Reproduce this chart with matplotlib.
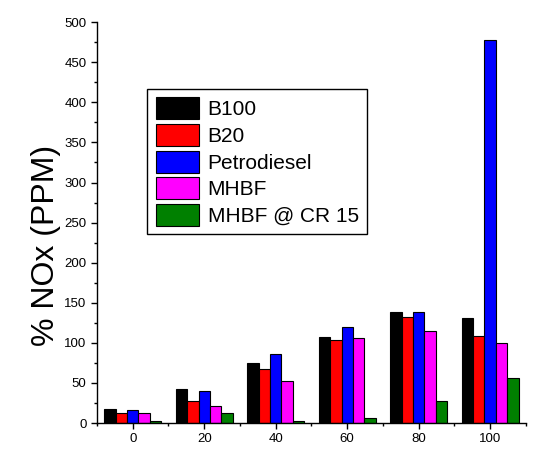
import numpy as np
import matplotlib
matplotlib.use("Agg")
import matplotlib.pyplot as plt
from matplotlib.ticker import MultipleLocator

plt.rcParams['font.family'] = ['Liberation Sans', 'DejaVu Sans']

# data
loads = [0, 20, 40, 60, 80, 100]
b100 = [17, 43, 75, 107, 138, 131]
b20 = [13, 27, 67, 103, 132, 108]
petrodiesel = [16, 40, 86, 120, 138, 478]
mhbf = [13, 21, 52, 106, 115, 100]
mhbf_cr15 = [3, 12, 2, 6, 27, 56]

series = [b100, b20, petrodiesel, mhbf, mhbf_cr15]
names = ['B100', 'B20', 'Petrodiesel', 'MHBF', 'MHBF @ CR 15']
colours = ['#000000', '#ff0000', '#0000ff', '#ff00ff', '#008000']

fig = plt.figure(figsize=(5.4, 4.62), dpi=100)
ax = fig.add_axes([0.1796, 0.0844, 0.7944, 0.8676])

width = 3.2
x = np.array(loads, dtype=float)
for i, (vals, name, c) in enumerate(zip(series, names, colours)):
    ax.bar(x + (i - 2) * width, vals, width, color=c, edgecolor='black',
           linewidth=0.8, label=name)

ax.set_xlim(-10, 110)
ax.set_ylim(0, 500)
ax.set_xticks(loads)
ax.xaxis.set_minor_locator(MultipleLocator(10))
ax.yaxis.set_major_locator(MultipleLocator(50))
ax.yaxis.set_minor_locator(MultipleLocator(25))
ax.spines['top'].set_visible(False)
ax.spines['right'].set_visible(False)
for s in ['left', 'bottom']:
    ax.spines[s].set_linewidth(1.0)
ax.tick_params(which='major', direction='out', length=4, width=1, labelsize=9.5)
ax.tick_params(which='minor', direction='out', length=2.5, width=1)

ax.set_ylabel('% NOx (PPM)', fontsize=23)
ax.yaxis.set_label_coords(-0.085, 0.444)

ax.legend(loc='upper left', bbox_to_anchor=(0.117, 0.833), borderaxespad=0,
          fontsize=15, handlelength=2.1, handleheight=1.25, labelspacing=0.22,
          handletextpad=0.4, borderpad=0.4, fancybox=False, framealpha=1,
          edgecolor='black')

fig.savefig('out.png', dpi=100)
